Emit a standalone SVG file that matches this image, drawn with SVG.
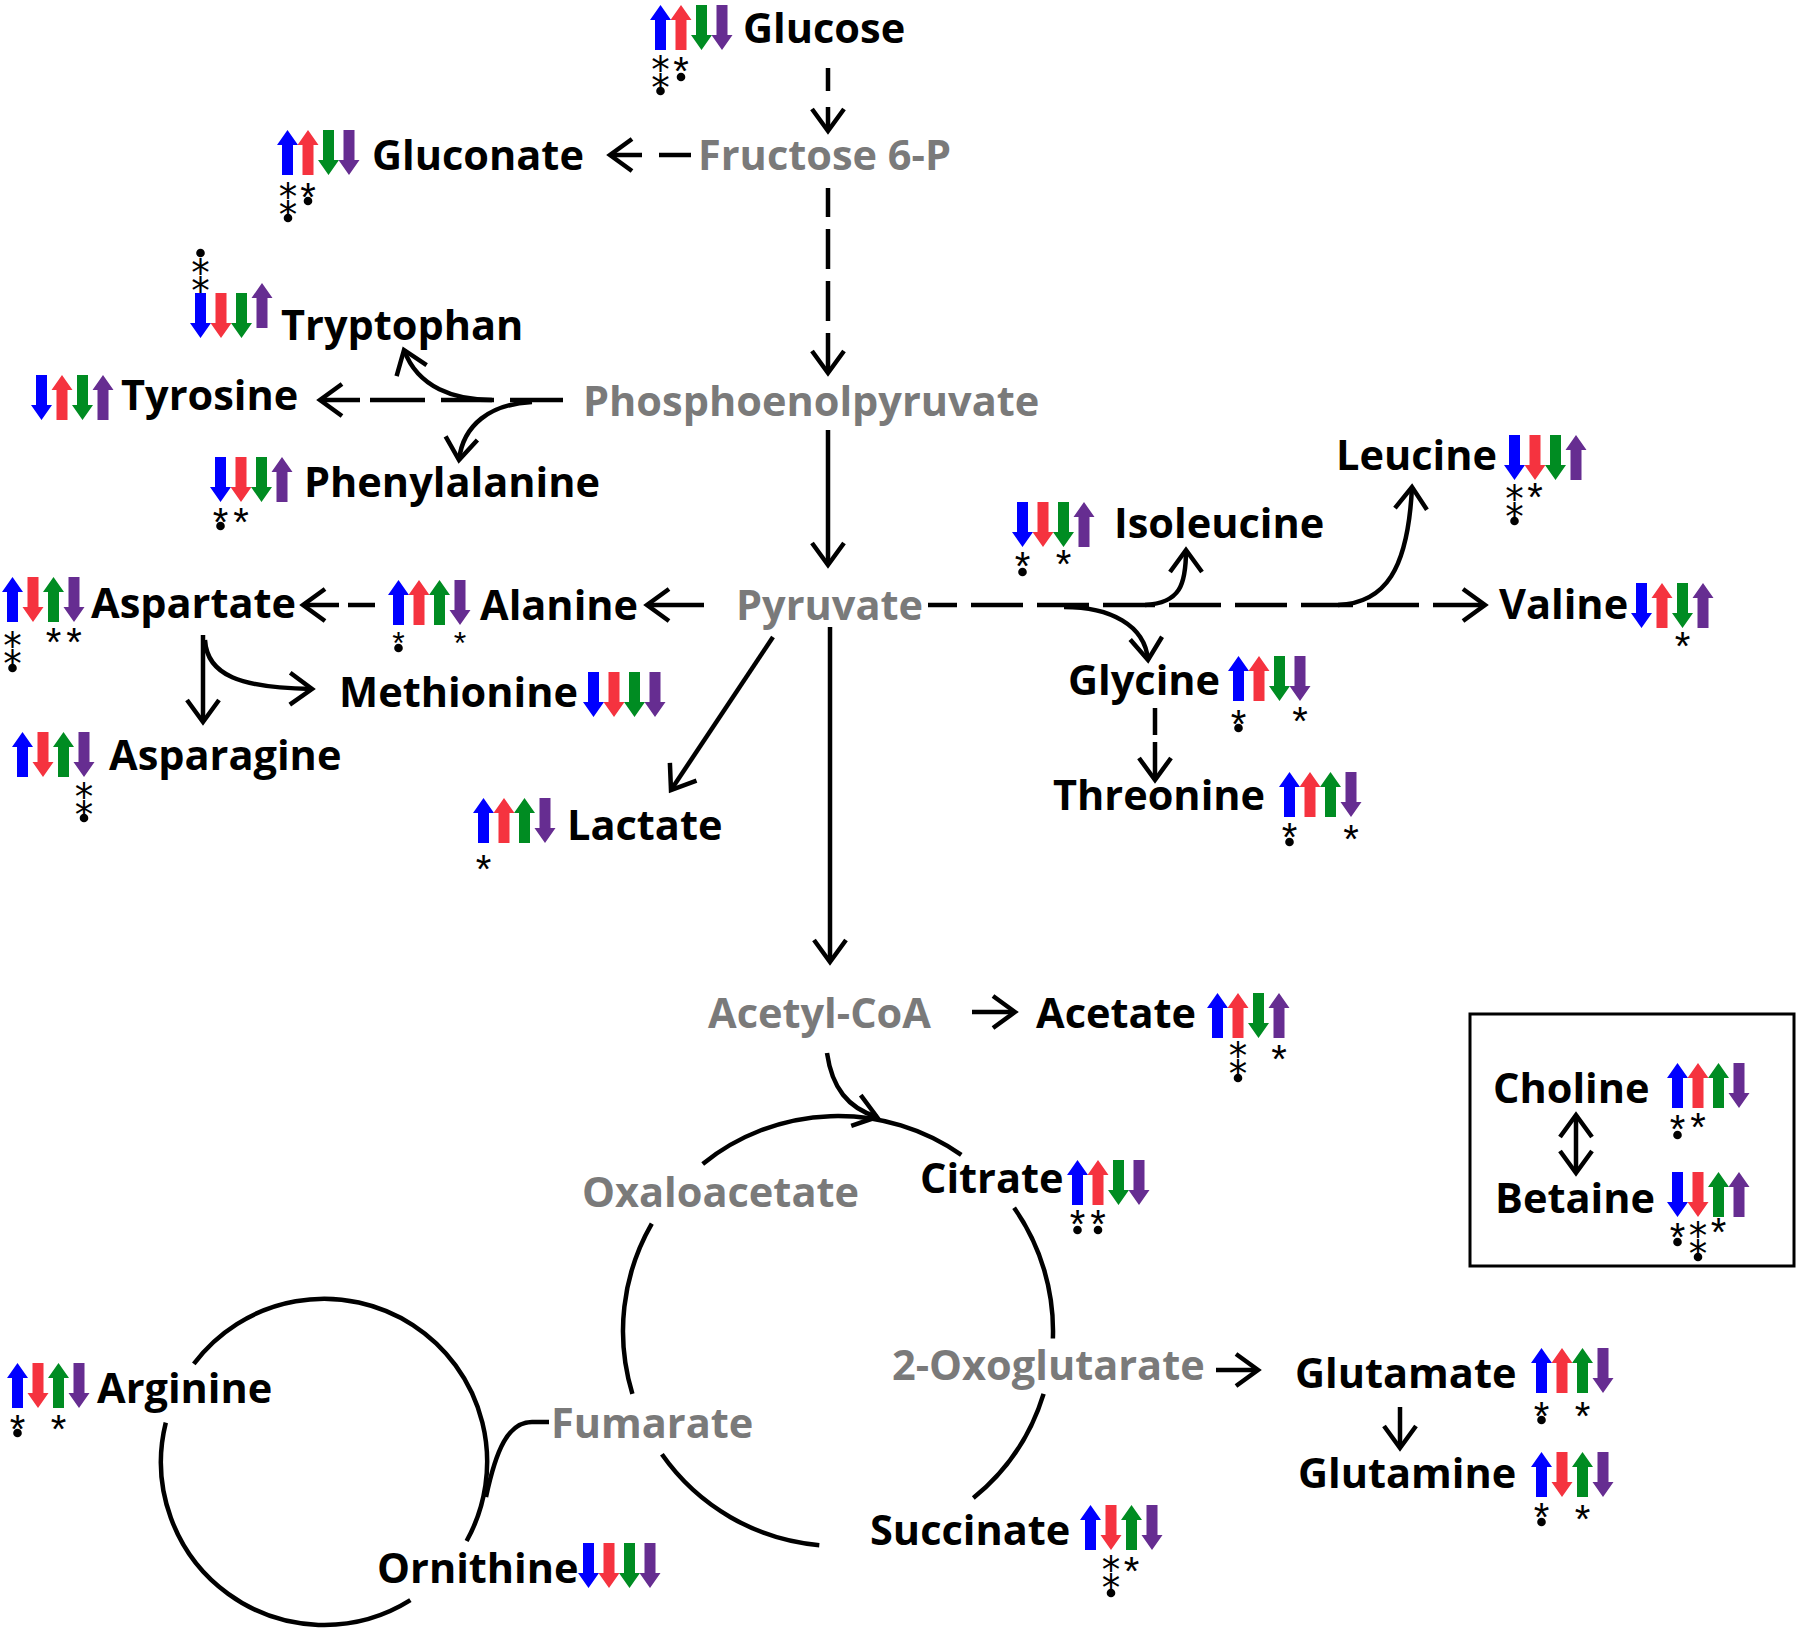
<svg xmlns="http://www.w3.org/2000/svg" width="1800" height="1633" viewBox="0 0 1800 1633">
<style>
.t{font-family:"Open Sans","Liberation Sans",sans-serif;font-size:41.5px;font-weight:700;fill:#000}
.g{fill:#7a7a7a}
.m{font-family:"Liberation Sans",sans-serif;font-size:40px;text-anchor:middle;fill:#000}
.ms{font-size:32px}
.m2{font-family:"DejaVu Sans","Noto Sans",sans-serif;font-size:37px;text-anchor:middle;fill:#000}
.c{fill:none;stroke:#000;stroke-width:4.5}
.b{fill:#0000ff}.r{fill:#f5333f}.gr{fill:#008c22}.p{fill:#662d91}
</style>
<defs>
<path id="u" d="M0,0 L10.5,15 L5.5,15 L5.5,45 L-5.5,45 L-5.5,15 L-10.5,15 Z"/>
<path id="d" d="M0,45 L10.5,30 L5.5,30 L5.5,0 L-5.5,0 L-5.5,30 L-10.5,30 Z"/>
<circle id="o" r="4.3" cx="0" cy="0"/>
<marker id="ah" viewBox="-30 -22 34 44" refX="0" refY="0" markerWidth="34" markerHeight="44" markerUnits="userSpaceOnUse" orient="auto-start-reverse">
<path d="M-22,-16 L0,0 L-22,16" fill="none" stroke="#000" stroke-width="4.5"/>
</marker>
</defs>
<rect width="1800" height="1633" fill="#fff"/>

<g id="connectors">
<path class="c" d="M828,131 L828,68" stroke-dasharray="24,16" marker-start="url(#ah)"/>
<path class="c" d="M610,155 L693,155" stroke-dasharray="32,17" marker-start="url(#ah)"/>
<path class="c" d="M828,373 L828,188" stroke-dasharray="40,12" marker-start="url(#ah)"/>
<path class="c" d="M828,430 L828,565" marker-end="url(#ah)"/>
<path class="c" d="M320,400 L563,400" stroke-dasharray="40,10,55,16,53,16,60" marker-start="url(#ah)"/>
<path class="c" d="M492,400 C455,400 418,388 404,350" marker-end="url(#ah)"/>
<path class="c" d="M532,402 C490,404 463,425 459,460" marker-end="url(#ah)"/>
<path class="c" d="M704,605 L647,605" marker-end="url(#ah)"/>
<path class="c" d="M303,605 L375,605" stroke-dasharray="36,9,30" marker-start="url(#ah)"/>
<path class="c" d="M203,635 L203,722" marker-end="url(#ah)"/>
<path class="c" d="M205,640 C207,675 240,688 312,689" marker-end="url(#ah)"/>
<path class="c" d="M773,637 L671,790" marker-end="url(#ah)"/>
<path class="c" d="M830,627 L830,962" marker-end="url(#ah)"/>
<path class="c" d="M1485,605 L928,605" stroke-dasharray="52,14" marker-start="url(#ah)"/>
<path class="c" d="M1064,607 C1110,607 1145,625 1148,660" marker-end="url(#ah)"/>
<path class="c" d="M1145,605 C1180,603 1186,585 1186,550" marker-end="url(#ah)"/>
<path class="c" d="M1338,605 C1385,603 1408,570 1412,487" marker-end="url(#ah)"/>
<path class="c" d="M1155,780 L1155,708" stroke-dasharray="38,7,30" marker-start="url(#ah)"/>
<path class="c" d="M972,1012 L1015,1012" marker-end="url(#ah)"/>
<path class="c" d="M827,1053 C832,1088 848,1108 877,1117" marker-end="url(#ah)"/>
<path class="c" d="M702.7,1163.9 A215,215 0 0 1 961.3,1154.9"/>
<path class="c" d="M1014.1,1207.7 A215,215 0 0 1 1052.9,1338.5"/>
<path class="c" d="M1043.6,1393.9 A215,215 0 0 1 973.3,1498.1"/>
<path class="c" d="M819.3,1545.2 A215,215 0 0 1 661.9,1454.3"/>
<path class="c" d="M632.4,1393.9 A215,215 0 0 1 651.8,1223.5"/>
<path class="c" d="M1216,1370 L1258,1370" marker-end="url(#ah)"/>
<path class="c" d="M1400,1407 L1400,1448" marker-end="url(#ah)"/>
<path class="c" d="M549,1422 L532,1422 C508,1422 496,1450 486,1497"/>
<path class="c" d="M193.8,1363.9 A163,163 0 0 1 466.6,1541"/>
<path class="c" d="M410.4,1600.2 A163,163 0 0 1 165.8,1422.6"/>
<path class="c" d="M1576,1115 L1576,1173" marker-start="url(#ah)" marker-end="url(#ah)"/>
</g>

<g id="glucose">
<use href="#u" x="660.5" y="5" class="b"/><use href="#u" x="681" y="5" class="r"/><use href="#d" x="701.5" y="5" class="gr"/><use href="#d" x="722" y="5" class="p"/>
<text class="t" x="743" y="43">Glucose</text>
<text class="m2" x="660.5" y="90">⁑</text><use href="#o" x="660.5" y="91"/>
<text class="m" x="681" y="85">*</text><use href="#o" x="681" y="77"/>
</g>

<g id="fructose6p"><text class="t g" x="698" y="170">Fructose 6-P</text></g>

<g id="gluconate">
<use href="#u" x="287.5" y="130" class="b"/><use href="#u" x="308" y="130" class="r"/><use href="#d" x="328.5" y="130" class="gr"/><use href="#d" x="349" y="130" class="p"/>
<text class="t" x="372" y="170">Gluconate</text>
<text class="m2" x="288" y="216.5">⁑</text><use href="#o" x="288" y="218"/>
<text class="m" x="308" y="211">*</text><use href="#o" x="308" y="201"/>
</g>

<g id="pep"><text class="t g" x="583" y="416">Phosphoenolpyruvate</text></g>

<g id="tryptophan">
<use href="#d" x="200.5" y="293" class="b"/><use href="#d" x="221" y="293" class="r"/><use href="#d" x="241.5" y="293" class="gr"/><use href="#u" x="262" y="283" class="p"/>
<text class="t" x="281" y="340">Tryptophan</text>
<use href="#o" x="200.5" y="253"/><text class="m2" x="200.5" y="293">⁑</text>
</g>

<g id="tyrosine">
<use href="#d" x="41.5" y="375" class="b"/><use href="#u" x="62" y="375" class="r"/><use href="#d" x="82.5" y="375" class="gr"/><use href="#u" x="103" y="375" class="p"/>
<text class="t" x="121" y="410">Tyrosine</text>
</g>

<g id="phenylalanine">
<use href="#d" x="220.5" y="457" class="b"/><use href="#d" x="241" y="457" class="r"/><use href="#d" x="261.5" y="457" class="gr"/><use href="#u" x="282" y="457" class="p"/>
<text class="t" x="304" y="497">Phenylalanine</text>
<text class="m" x="220.5" y="536">*</text><use href="#o" x="220.5" y="526"/>
<text class="m" x="241" y="536">*</text>
</g>

<g id="pyruvate"><text class="t g" x="736" y="620">Pyruvate</text></g>

<g id="alanine">
<use href="#u" x="398.5" y="580" class="b"/><use href="#u" x="419" y="580" class="r"/><use href="#u" x="439.5" y="580" class="gr"/><use href="#d" x="460" y="580" class="p"/>
<text class="t" x="480" y="620">Alanine</text>
<text class="m ms" x="398.5" y="653.5">*</text><use href="#o" x="398.5" y="648"/>
<text class="m ms" x="460" y="654">*</text>
</g>

<g id="aspartate">
<use href="#u" x="12.5" y="577" class="b"/><use href="#d" x="33" y="577" class="r"/><use href="#u" x="53.5" y="577" class="gr"/><use href="#d" x="74" y="577" class="p"/>
<text class="t" x="91" y="618">Aspartate</text>
<text class="m2" x="12.5" y="665.5">⁑</text><use href="#o" x="12.5" y="668"/>
<text class="m" x="53.5" y="656">*</text><text class="m" x="74" y="656">*</text>
</g>

<g id="methionine">
<text class="t" x="339" y="707">Methionine</text>
<use href="#d" x="593.5" y="672" class="b"/><use href="#d" x="614" y="672" class="r"/><use href="#d" x="634.5" y="672" class="gr"/><use href="#d" x="655" y="672" class="p"/>
</g>

<g id="asparagine">
<use href="#u" x="22.5" y="732" class="b"/><use href="#d" x="43" y="732" class="r"/><use href="#u" x="63.5" y="732" class="gr"/><use href="#d" x="84" y="732" class="p"/>
<text class="t" x="109" y="770">Asparagine</text>
<text class="m2" x="84" y="816.5">⁑</text><use href="#o" x="84" y="818"/>
</g>

<g id="lactate">
<use href="#u" x="483.5" y="798" class="b"/><use href="#u" x="504" y="798" class="r"/><use href="#u" x="524.5" y="798" class="gr"/><use href="#d" x="545" y="798" class="p"/>
<text class="t" x="567" y="840">Lactate</text>
<text class="m" x="483.5" y="883">*</text>
</g>

<g id="isoleucine">
<use href="#d" x="1022.5" y="502" class="b"/><use href="#d" x="1043" y="502" class="r"/><use href="#d" x="1063.5" y="502" class="gr"/><use href="#u" x="1084" y="502" class="p"/>
<text class="t" x="1114" y="538">Isoleucine</text>
<text class="m" x="1022.5" y="580">*</text><use href="#o" x="1022.5" y="572"/>
<text class="m" x="1063.5" y="578">*</text>
</g>

<g id="leucine">
<text class="t" x="1336" y="470">Leucine</text>
<use href="#d" x="1514.5" y="435" class="b"/><use href="#d" x="1535" y="435" class="r"/><use href="#d" x="1555.5" y="435" class="gr"/><use href="#u" x="1576" y="435" class="p"/>
<text class="m2" x="1514.5" y="518.5">⁑</text><use href="#o" x="1514.5" y="521"/>
<text class="m" x="1535" y="511">*</text>
</g>

<g id="valine">
<text class="t" x="1499" y="619">Valine</text>
<use href="#d" x="1641.5" y="583" class="b"/><use href="#u" x="1662" y="583" class="r"/><use href="#d" x="1682.5" y="583" class="gr"/><use href="#u" x="1703" y="583" class="p"/>
<text class="m" x="1682.5" y="660">*</text>
</g>

<g id="glycine">
<text class="t" x="1068" y="695">Glycine</text>
<use href="#u" x="1238.5" y="656" class="b"/><use href="#u" x="1259" y="656" class="r"/><use href="#d" x="1279.5" y="656" class="gr"/><use href="#d" x="1300" y="656" class="p"/>
<text class="m" x="1238.5" y="738">*</text><use href="#o" x="1238.5" y="728"/>
<text class="m" x="1300" y="735">*</text>
</g>

<g id="threonine">
<text class="t" x="1053" y="810">Threonine</text>
<use href="#u" x="1289.5" y="772" class="b"/><use href="#u" x="1310" y="772" class="r"/><use href="#u" x="1330.5" y="772" class="gr"/><use href="#d" x="1351" y="772" class="p"/>
<text class="m" x="1289.5" y="851">*</text><use href="#o" x="1289.5" y="842"/>
<text class="m" x="1351" y="853">*</text>
</g>

<g id="acetylcoa"><text class="t g" x="708" y="1028">Acetyl-CoA</text></g>

<g id="acetate">
<text class="t" x="1036" y="1028">Acetate</text>
<use href="#u" x="1217.5" y="993" class="b"/><use href="#u" x="1238" y="993" class="r"/><use href="#d" x="1258.5" y="993" class="gr"/><use href="#u" x="1279" y="993" class="p"/>
<text class="m2" x="1238" y="1075.5">⁑</text><use href="#o" x="1238" y="1078"/>
<text class="m" x="1279" y="1073">*</text>
</g>

<g id="oxaloacetate"><text class="t g" x="582" y="1207">Oxaloacetate</text></g>

<g id="citrate">
<text class="t" x="920" y="1193">Citrate</text>
<use href="#u" x="1077.5" y="1160" class="b"/><use href="#u" x="1098" y="1160" class="r"/><use href="#d" x="1118.5" y="1160" class="gr"/><use href="#d" x="1139" y="1160" class="p"/>
<text class="m" x="1077.5" y="1238">*</text><use href="#o" x="1077.5" y="1230"/>
<text class="m" x="1098" y="1238">*</text><use href="#o" x="1098" y="1230"/>
</g>

<g id="oxoglutarate"><text class="t g" x="892" y="1380">2-Oxoglutarate</text></g>

<g id="glutamate">
<text class="t" x="1295" y="1388">Glutamate</text>
<use href="#u" x="1541.5" y="1348" class="b"/><use href="#u" x="1562" y="1348" class="r"/><use href="#u" x="1582.5" y="1348" class="gr"/><use href="#d" x="1603" y="1348" class="p"/>
<text class="m" x="1541.5" y="1430">*</text><use href="#o" x="1541.5" y="1420"/>
<text class="m" x="1582.5" y="1430">*</text>
</g>

<g id="glutamine">
<text class="t" x="1298" y="1488">Glutamine</text>
<use href="#u" x="1541.5" y="1452" class="b"/><use href="#d" x="1562" y="1452" class="r"/><use href="#u" x="1582.5" y="1452" class="gr"/><use href="#d" x="1603" y="1452" class="p"/>
<text class="m" x="1541.5" y="1531">*</text><use href="#o" x="1541.5" y="1522"/>
<text class="m" x="1582.5" y="1533">*</text>
</g>

<g id="succinate">
<text class="t" x="870" y="1545">Succinate</text>
<use href="#u" x="1090.5" y="1505" class="b"/><use href="#d" x="1111" y="1505" class="r"/><use href="#u" x="1131.5" y="1505" class="gr"/><use href="#d" x="1152" y="1505" class="p"/>
<text class="m2" x="1111" y="1589.5">⁑</text><use href="#o" x="1111" y="1593"/>
<text class="m" x="1131.5" y="1585">*</text>
</g>

<g id="fumarate"><text class="t g" x="551" y="1438">Fumarate</text></g>

<g id="arginine">
<use href="#u" x="17.5" y="1363" class="b"/><use href="#d" x="38" y="1363" class="r"/><use href="#u" x="58.5" y="1363" class="gr"/><use href="#d" x="79" y="1363" class="p"/>
<text class="t" x="97" y="1403">Arginine</text>
<text class="m" x="17.5" y="1443">*</text><use href="#o" x="17.5" y="1433"/>
<text class="m" x="58.5" y="1443">*</text>
</g>

<g id="ornithine">
<text class="t" x="377" y="1583">Ornithine</text>
<use href="#d" x="588.5" y="1543" class="b"/><use href="#d" x="609" y="1543" class="r"/><use href="#d" x="629.5" y="1543" class="gr"/><use href="#d" x="650" y="1543" class="p"/>
</g>

<g id="legend">
<rect x="1470" y="1014" width="324" height="252" fill="none" stroke="#000" stroke-width="3"/>
<text class="t" x="1493" y="1103">Choline</text>
<use href="#u" x="1677.5" y="1063" class="b"/><use href="#u" x="1698" y="1063" class="r"/><use href="#u" x="1718.5" y="1063" class="gr"/><use href="#d" x="1739" y="1063" class="p"/>
<text class="m" x="1677.5" y="1143">*</text><use href="#o" x="1677.5" y="1135"/>
<text class="m" x="1698" y="1141">*</text>
<text class="t" x="1495" y="1213">Betaine</text>
<use href="#d" x="1677.5" y="1172" class="b"/><use href="#d" x="1698" y="1172" class="r"/><use href="#u" x="1718.5" y="1172" class="gr"/><use href="#u" x="1739" y="1172" class="p"/>
<text class="m" x="1677.5" y="1251">*</text><use href="#o" x="1677.5" y="1242"/>
<text class="m2" x="1698" y="1255.5">⁑</text><use href="#o" x="1698" y="1257"/>
<text class="m" x="1718.5" y="1246">*</text>
</g>
</svg>
